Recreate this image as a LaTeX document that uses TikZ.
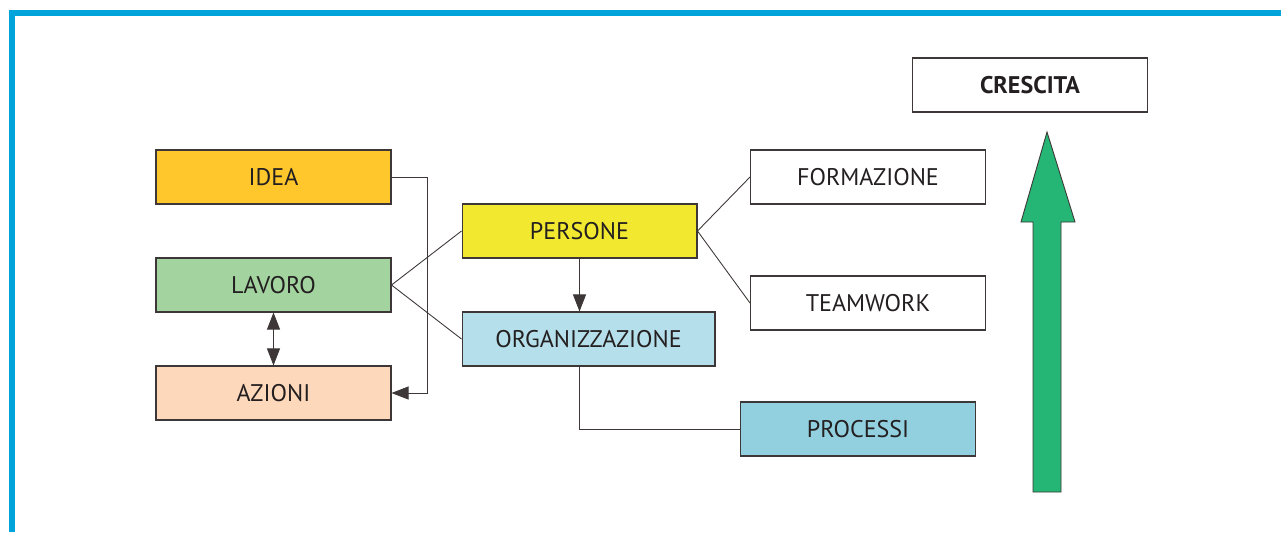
\documentclass[tikz,border=0pt]{standalone}
\usepackage{fontspec}
\setmainfont{PT Sans}
\usetikzlibrary{arrows.meta}
\definecolor{bordo}{HTML}{00A3DA}
\definecolor{cidea}{HTML}{FFC72C}
\definecolor{clavoro}{HTML}{A3D39F}
\definecolor{cazioni}{HTML}{FDD8BA}
\definecolor{cpersone}{HTML}{F1E82F}
\definecolor{corg}{HTML}{B5DFEA}
\definecolor{cprocessi}{HTML}{92D0E0}
\definecolor{cfreccia}{HTML}{25B574}
\definecolor{linea}{HTML}{3D3737}
\definecolor{testo}{HTML}{231F20}
\tikzset{
  blocco/.style={draw=linea, line width=0.6pt, minimum width=4.7cm, minimum height=1.08cm,
    inner sep=0pt, font=\fontsize{13.7}{16}\selectfont, text=testo},
  legame/.style={draw=linea, line width=0.5pt}
}

\begin{document}
\begin{tikzpicture}[x=0.02cm, y=-0.02cm]
\def\l{3.4mm}
\def\w{2.6mm}

\useasboundingbox (0,0) rectangle (1281,532);
\draw [bordo, line width=0.11cm, line join=miter] (12,532) -- (12,13) -- (1281,13);

\node [blocco, fill=cidea,    name=idea]      at (273.5,177) {IDEA};
\node [blocco, fill=clavoro,  name=lavoro]    at (273.5,285) {LAVORO};
\node [blocco, fill=cazioni,  name=azioni]    at (273.5,393) {AZIONI};
\node [blocco, fill=cpersone, name=persone]   at (579.5,231) {PERSONE};
\node [blocco, fill=corg, minimum width=5.06cm, name=org] at (588.5,339) {ORGANIZZAZIONE};
\node [blocco, fill=white,    name=formazione] at (868,177) {FORMAZIONE};
\node [blocco, fill=white,    name=teamwork]  at (868,303) {TEAMWORK};
\node [blocco, fill=cprocessi, name=processi] at (858,429) {PROCESSI};
\node [blocco, fill=white, font=\fontsize{13.7}{16}\selectfont\bfseries, name=crescita] at (1030,85) {CRESCITA};

\draw [legame, -{Triangle[length=\l, width=\w]}] (idea.east) -- ++(36,0) |- (azioni.east);
\draw [legame, {Triangle[length=\l, width=\w]}-{Triangle[length=\l, width=\w]}] (lavoro.south) -- (azioni.north);
\draw [legame] (lavoro.east) -- (persone.west);
\draw [legame] (lavoro.east) -- (org.west);
\draw [legame, -{Triangle[length=\l, width=\w]}] (persone.south) -- (persone.south |- org.north);
\draw [legame] (persone.east) -- (formazione.west);
\draw [legame] (persone.east) -- (teamwork.west);
\draw [legame] (persone.south |- org.south) |- (processi.west);

% freccia crescita
\draw [linea, line width=0.5pt, fill=cfreccia] (1047,132) -- (1075,222) -- (1061,222) -- (1061,492)
  -- (1033,492) -- (1033,222) -- (1021,222) -- cycle;
\end{tikzpicture}
\end{document}
